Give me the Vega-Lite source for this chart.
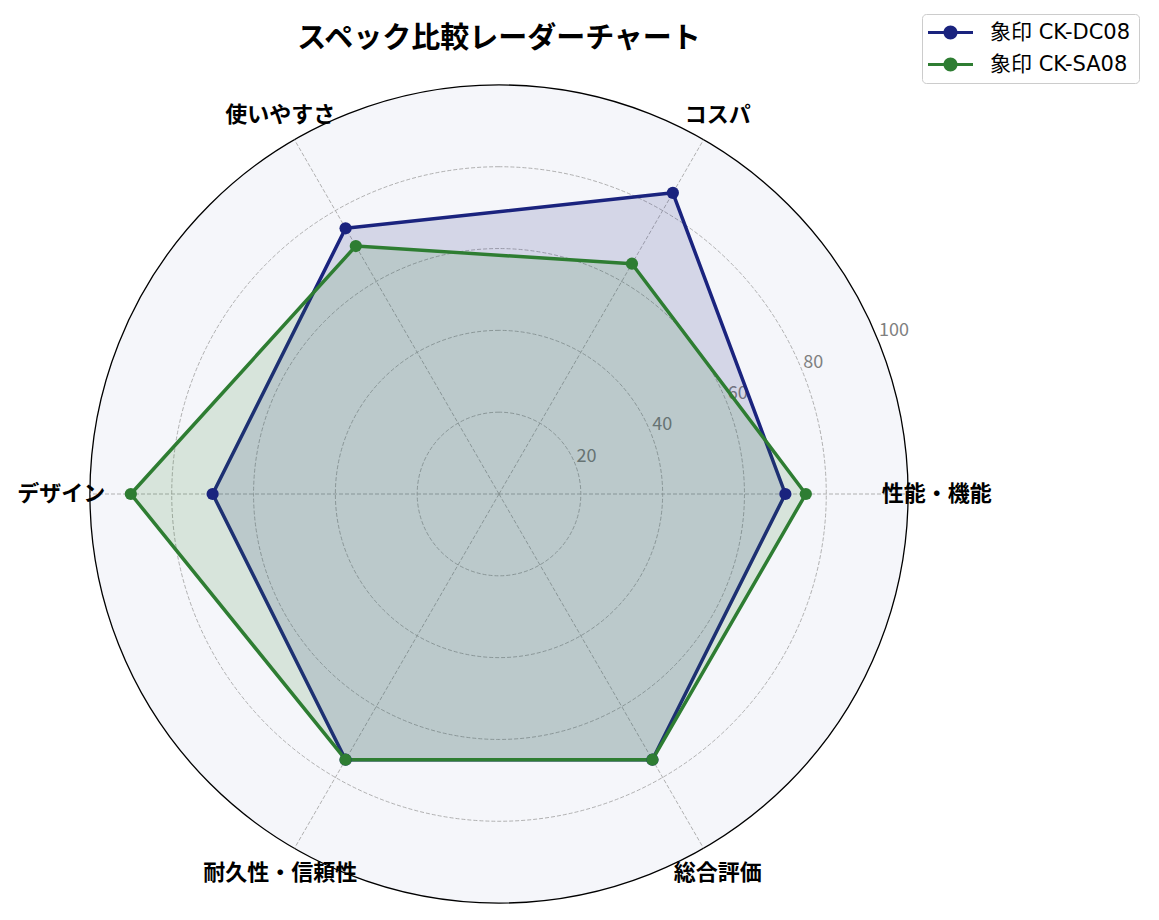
{
  "$schema": "https://vega.github.io/schema/vega-lite/v6.json",
  "width": 900,
  "height": 900,
  "autosize": {"type": "none"},
  "padding": {"left": 49, "top": 44, "right": 210, "bottom": 0},
  "background": "white",
  "view": {"stroke": null},
  "config": {"font": "Noto Sans CJK JP"},
  "title": {"text": "スペック比較レーダーチャート", "fontSize": 29, "fontWeight": "bold", "anchor": "middle", "frame": "group", "color": "#000000", "offset": -40},
  "datasets": {
    "ticks": [{"r": 20}, {"r": 40}, {"r": 60}, {"r": 80}, {"r": 100}],
    "cats": [
      {"idx": 0, "label": "性能・機能"},
      {"idx": 1, "label": "コスパ"},
      {"idx": 2, "label": "使いやすさ"},
      {"idx": 3, "label": "デザイン"},
      {"idx": 4, "label": "耐久性・信頼性"},
      {"idx": 5, "label": "総合評価"}
    ],
    "scores": [
      {"series": "象印 CK-DC08", "idx": 0, "label": "性能・機能", "value": 70},
      {"series": "象印 CK-DC08", "idx": 1, "label": "コスパ", "value": 85},
      {"series": "象印 CK-DC08", "idx": 2, "label": "使いやすさ", "value": 75},
      {"series": "象印 CK-DC08", "idx": 3, "label": "デザイン", "value": 70},
      {"series": "象印 CK-DC08", "idx": 4, "label": "耐久性・信頼性", "value": 75},
      {"series": "象印 CK-DC08", "idx": 5, "label": "総合評価", "value": 75},
      {"series": "象印 CK-SA08", "idx": 0, "label": "性能・機能", "value": 75},
      {"series": "象印 CK-SA08", "idx": 1, "label": "コスパ", "value": 65},
      {"series": "象印 CK-SA08", "idx": 2, "label": "使いやすさ", "value": 70},
      {"series": "象印 CK-SA08", "idx": 3, "label": "デザイン", "value": 90},
      {"series": "象印 CK-SA08", "idx": 4, "label": "耐久性・信頼性", "value": 75},
      {"series": "象印 CK-SA08", "idx": 5, "label": "総合評価", "value": 75}
    ]
  },
  "layer": [
    {
      "data": {"values": [{"r": 100}]},
      "transform": [{"calculate": "1", "as": "full"}],
      "mark": {"type": "arc", "fill": "#f5f6fa", "stroke": "#000000", "strokeWidth": 1.3},
      "encoding": {
        "theta": {"field": "full", "type": "quantitative"},
        "radius": {"field": "r", "type": "quantitative", "scale": {"type": "linear", "domain": [0, 110], "range": [0, 450], "zero": true}}
      }
    },
    {
      "data": {"values": [{"r": 20}]},
      "transform": [{"calculate": "1", "as": "full"}],
      "mark": {"type": "arc", "fill": null, "fillOpacity": 0, "stroke": "#a8a8a8", "strokeWidth": 0.9, "strokeDash": [4, 2]},
      "encoding": {
        "theta": {"field": "full", "type": "quantitative"},
        "radius": {"field": "r", "type": "quantitative", "scale": {"type": "linear", "domain": [0, 110], "range": [0, 450], "zero": true}}
      }
    },
    {
      "data": {"values": [{"r": 40}]},
      "transform": [{"calculate": "1", "as": "full"}],
      "mark": {"type": "arc", "fill": null, "fillOpacity": 0, "stroke": "#a8a8a8", "strokeWidth": 0.9, "strokeDash": [4, 2]},
      "encoding": {
        "theta": {"field": "full", "type": "quantitative"},
        "radius": {"field": "r", "type": "quantitative", "scale": {"type": "linear", "domain": [0, 110], "range": [0, 450], "zero": true}}
      }
    },
    {
      "data": {"values": [{"r": 60}]},
      "transform": [{"calculate": "1", "as": "full"}],
      "mark": {"type": "arc", "fill": null, "fillOpacity": 0, "stroke": "#a8a8a8", "strokeWidth": 0.9, "strokeDash": [4, 2]},
      "encoding": {
        "theta": {"field": "full", "type": "quantitative"},
        "radius": {"field": "r", "type": "quantitative", "scale": {"type": "linear", "domain": [0, 110], "range": [0, 450], "zero": true}}
      }
    },
    {
      "data": {"values": [{"r": 80}]},
      "transform": [{"calculate": "1", "as": "full"}],
      "mark": {"type": "arc", "fill": null, "fillOpacity": 0, "stroke": "#a8a8a8", "strokeWidth": 0.9, "strokeDash": [4, 2]},
      "encoding": {
        "theta": {"field": "full", "type": "quantitative"},
        "radius": {"field": "r", "type": "quantitative", "scale": {"type": "linear", "domain": [0, 110], "range": [0, 450], "zero": true}}
      }
    },
    {
      "data": {"name": "cats"},
      "transform": [
        {"calculate": "datum.idx * PI / 3", "as": "a"},
        {"calculate": "0", "as": "x0"},
        {"calculate": "0", "as": "y0"},
        {"calculate": "100 * cos(datum.a)", "as": "xe"},
        {"calculate": "100 * sin(datum.a)", "as": "ye"}
      ],
      "mark": {"type": "rule", "stroke": "#a8a8a8", "strokeWidth": 0.9, "strokeDash": [4, 2]},
      "encoding": {
        "x": {"field": "x0", "type": "quantitative", "scale": {"domain": [-110, 110]}, "axis": null},
        "y": {"field": "y0", "type": "quantitative", "scale": {"domain": [-110, 110]}, "axis": null},
        "x2": {"field": "xe"},
        "y2": {"field": "ye"}
      }
    },
    {
      "data": {"name": "ticks"},
      "transform": [
        {"calculate": "datum.r * cos(PI / 8)", "as": "x"},
        {"calculate": "datum.r * sin(PI / 8)", "as": "y"}
      ],
      "mark": {"type": "text", "align": "left", "baseline": "alphabetic", "dx": 2, "dy": -1, "fontSize": 18, "fill": "#808080"},
      "encoding": {
        "x": {"field": "x", "type": "quantitative", "scale": {"domain": [-110, 110]}, "axis": null},
        "y": {"field": "y", "type": "quantitative", "scale": {"domain": [-110, 110]}, "axis": null},
        "text": {"field": "r", "type": "quantitative"}
      }
    },
    {
      "data": {"name": "scores"},
      "transform": [
        {"calculate": "datum.idx * PI / 3", "as": "a"},
        {"calculate": "datum.value * cos(datum.a)", "as": "x"},
        {"calculate": "datum.value * sin(datum.a)", "as": "y"}
      ],
      "mark": {"type": "line", "interpolate": "linear-closed", "strokeWidth": 3.5, "fillOpacity": 0.15, "strokeJoin": "round"},
      "encoding": {
        "x": {"field": "x", "type": "quantitative", "scale": {"domain": [-110, 110]}, "axis": null},
        "y": {"field": "y", "type": "quantitative", "scale": {"domain": [-110, 110]}, "axis": null},
        "order": {"field": "idx", "type": "quantitative"},
        "color": {
          "field": "series", "type": "nominal",
          "scale": {"domain": ["象印 CK-DC08", "象印 CK-SA08"], "range": ["#1a237e", "#2e7d32"]},
          "legend": {
            "title": null, "orient": "none", "legendX": 873, "legendY": -30,
            "symbolType": "M-2.25,-0.15L2.25,-0.15L2.25,0.15L-2.25,0.15Z M0.7,0 A0.7,0.7 0 1,1 -0.7,0 A0.7,0.7 0 1,1 0.7,0 Z",
            "symbolSize": 400, "symbolStrokeWidth": 0, "symbolOffset": 10,
            "labelFontSize": 21, "labelColor": "#000000", "labelFont": "DejaVu Sans, Noto Sans CJK JP", "labelOffset": 29,
            "strokeColor": "#cccccc", "fillColor": "#ffffff", "cornerRadius": 4, "padding": 8, "rowPadding": 10,
            "encode": {"symbols": {"update": {"fill": {"scale": "color", "field": "value"}, "fillOpacity": {"value": 1}, "opacity": {"value": 1}, "stroke": {"value": "transparent"}}}}
          }
        },
        "fill": {
          "field": "series", "type": "nominal",
          "scale": {"domain": ["象印 CK-DC08", "象印 CK-SA08"], "range": ["#1a237e", "#2e7d32"]},
          "legend": null
        }
      }
    },
    {
      "data": {"name": "scores"},
      "transform": [
        {"calculate": "datum.idx * PI / 3", "as": "a"},
        {"calculate": "datum.value * cos(datum.a)", "as": "x"},
        {"calculate": "datum.value * sin(datum.a)", "as": "y"}
      ],
      "mark": {"type": "point", "filled": true, "size": 150, "opacity": 1, "shape": "circle"},
      "encoding": {
        "x": {"field": "x", "type": "quantitative", "scale": {"domain": [-110, 110]}, "axis": null},
        "y": {"field": "y", "type": "quantitative", "scale": {"domain": [-110, 110]}, "axis": null},
        "color": {
          "field": "series", "type": "nominal",
          "scale": {"domain": ["象印 CK-DC08", "象印 CK-SA08"], "range": ["#1a237e", "#2e7d32"]},
          "legend": {
            "title": null, "orient": "none", "legendX": 873, "legendY": -30,
            "symbolType": "M-2.25,-0.15L2.25,-0.15L2.25,0.15L-2.25,0.15Z M0.7,0 A0.7,0.7 0 1,1 -0.7,0 A0.7,0.7 0 1,1 0.7,0 Z",
            "symbolSize": 400, "symbolStrokeWidth": 0, "symbolOffset": 10,
            "labelFontSize": 21, "labelColor": "#000000", "labelFont": "DejaVu Sans, Noto Sans CJK JP", "labelOffset": 29,
            "strokeColor": "#cccccc", "fillColor": "#ffffff", "cornerRadius": 4, "padding": 8, "rowPadding": 10,
            "encode": {"symbols": {"update": {"fill": {"scale": "color", "field": "value"}, "fillOpacity": {"value": 1}, "opacity": {"value": 1}, "stroke": {"value": "transparent"}}}}
          }
        }
      }
    },
    {
      "data": {"name": "cats"},
      "transform": [
        {"calculate": "datum.idx * PI / 3", "as": "a"},
        {"calculate": "107 * cos(datum.a)", "as": "x"},
        {"calculate": "107 * sin(datum.a)", "as": "y"}
      ],
      "mark": {"type": "text", "align": "center", "baseline": "middle", "fontSize": 22, "fontWeight": "bold", "fill": "#000000"},
      "encoding": {
        "x": {"field": "x", "type": "quantitative", "scale": {"domain": [-110, 110]}, "axis": null},
        "y": {"field": "y", "type": "quantitative", "scale": {"domain": [-110, 110]}, "axis": null},
        "text": {"field": "label", "type": "nominal"}
      }
    }
  ]
}
